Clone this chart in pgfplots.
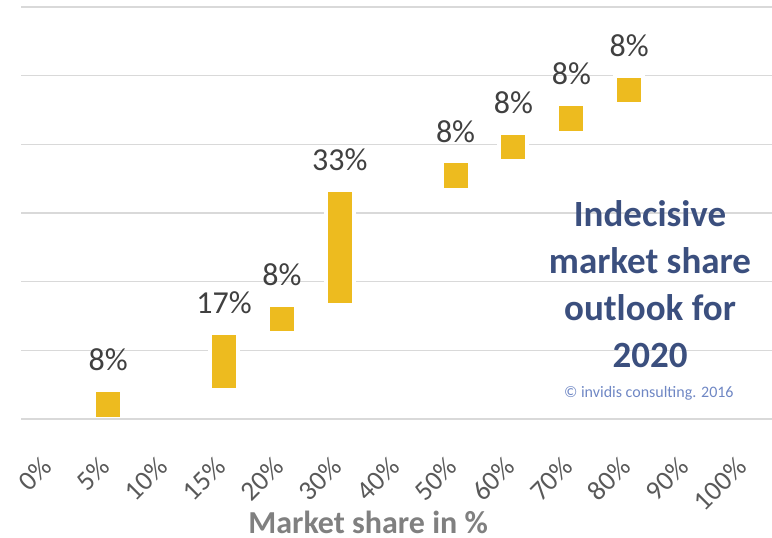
\documentclass[border=0pt]{standalone}
\usepackage{pgfplots}
\pgfplotsset{compat=1.18}
\usepackage{pgfplotstable}
\usepackage{fontspec}
\setmainfont{Carlito}
\definecolor{barcol}{HTML}{EDBB1F}
\definecolor{titlecol}{HTML}{3B4F7E}
\definecolor{copycol}{HTML}{6F87C4}
\definecolor{gridcol}{HTML}{D9D9D9}
\definecolor{ticklab}{HTML}{595959}
\definecolor{axtitle}{HTML}{808080}
\definecolor{datalab}{HTML}{404040}
\pgfplotstableread{
x base val lab top
1 0      8.333  8  8.333
3 8.333  16.667 17 25
4 25     8.333  8  33.333
5 33.333 33.333 33 66.667
7 66.667 8.333  8  75
8 75     8.333  8  83.333
9 83.333 8.333  8  91.667
10 91.667 8.333 8  100
}\datatab
\pgfplotsset{common/.style={
  at={(0pt,0pt)}, anchor=south west,
  scale only axis,
  width=750.7pt, height=412pt,
  xmin=-0.5, xmax=12.465,
  ymin=0, ymax=120,
  clip=false,
}}
\begin{document}
\begin{tikzpicture}
\begin{axis}[
  common,
  axis line style={draw=none},
  ymajorgrids, ytick={0,20,...,120}, yticklabels={},
  major y tick style={draw=none},
  grid style={gridcol, line width=1.3pt},
  xtick={0,...,12},
  xtick pos=bottom,
  xticklabels={0\%,5\%,10\%,15\%,20\%,30\%,40\%,50\%,60\%,70\%,80\%,90\%,100\%},
  major x tick style={draw=none},
  x tick label style={xshift=-10pt, yshift=-36pt, rotate=45, anchor=north east, inner sep=0pt,
     font=\fontsize{27.5}{30}\selectfont, text=ticklab},
  /pgf/number format/assume math mode=true,
  extra x ticks={-0.5,0.5,...,11.5},
  extra x tick labels={},
  extra x tick style={major tick length=10pt, tick align=outside, tick style={gridcol, line width=1.3pt}, grid=none},
  ybar stacked,
  bar width=28pt,
  xlabel={\textbf{Market share in \%}},
  xlabel style={at={(axis description cs:0.462,-0.250)}, anchor=center, font=\fontsize{32}{36}\selectfont, text=axtitle},
]
\draw[gridcol, line width=1.3pt] (axis cs:-0.5,0) -- (axis cs:12.465,0);
\addplot[fill=none, draw=none] table[x=x, y=base] {\datatab};
\addplot[fill=barcol, draw=white, line width=4pt] table[x=x, y=val] {\datatab};
\node[align=center, font=\fontsize{37}{47}\selectfont\bfseries, text=titlecol] at (axis description cs:0.8375,0.3277) {Indecisive\\market share\\outlook for\\2020};
\node[font=\fontsize{16}{19}\selectfont, text=copycol] at (axis description cs:0.836,0.063) {© invidis consulting. 2016};
\end{axis}
\begin{axis}[
  common,
  hide axis,
]
\addplot[draw=none, mark=none,
  nodes near coords={\pgfmathprintnumber[assume math mode=true]{\pgfplotspointmeta}\%},
  point meta=explicit,
  every node near coord/.append style={font=\fontsize{32}{36}\selectfont, text=datalab, anchor=south, yshift=19pt, inner sep=0pt}]
  table[x=x, y=top, meta=lab] {\datatab};
\end{axis}
\pgfresetboundingbox
\path (-21.3pt,-119pt) rectangle (750.7pt,419pt);
\end{tikzpicture}
\end{document}
